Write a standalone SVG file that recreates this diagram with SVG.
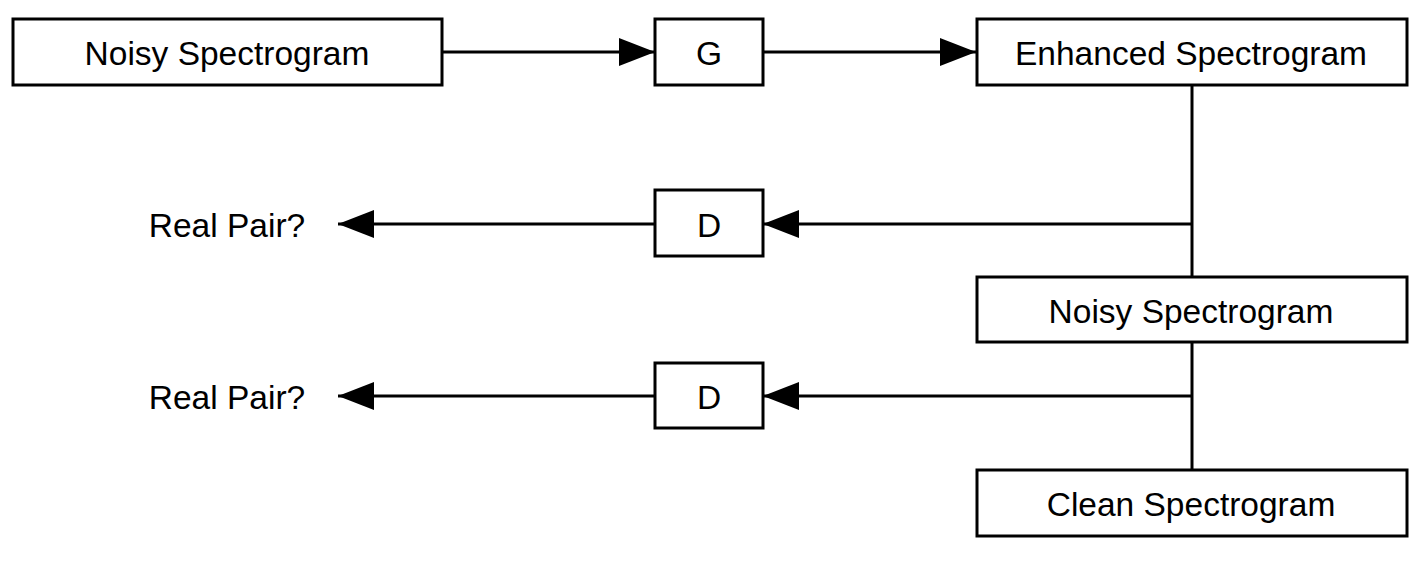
<svg xmlns="http://www.w3.org/2000/svg" width="1426" height="562" viewBox="0 0 1426 562">
<defs>
<style>
.box{fill:#fff;stroke:#000;stroke-width:3}
.t{font-family:"Liberation Sans",Arial,sans-serif;font-size:33.5px;fill:#000;text-anchor:middle;dominant-baseline:central}
.c{stroke:#000;stroke-width:3;fill:none}
</style>
<marker id="ah" markerWidth="36" markerHeight="28" refX="36" refY="14" orient="auto" markerUnits="userSpaceOnUse">
<path d="M0,0 L36,14 L0,28 Z" fill="#000"/>
</marker>
</defs>
<g id="connectors">
<line class="c" x1="442" y1="52" x2="655" y2="52" marker-end="url(#ah)"/>
<line class="c" x1="763" y1="52" x2="976" y2="52" marker-end="url(#ah)"/>
<line class="c" x1="1192" y1="85" x2="1192" y2="277"/>
<line class="c" x1="1192" y1="224" x2="763" y2="224" marker-end="url(#ah)"/>
<line class="c" x1="655" y1="224" x2="338" y2="224" marker-end="url(#ah)"/>
<line class="c" x1="1192" y1="342" x2="1192" y2="470"/>
<line class="c" x1="1192" y1="396" x2="763" y2="396" marker-end="url(#ah)"/>
<line class="c" x1="655" y1="396" x2="338" y2="396" marker-end="url(#ah)"/>
</g>
<g id="noisy-in"><rect class="box" x="13" y="19" width="429" height="66"/><text class="t" x="227" y="53">Noisy Spectrogram</text></g>
<g id="G"><rect class="box" x="655" y="19" width="108" height="66"/><text class="t" x="709" y="53">G</text></g>
<g id="enhanced"><rect class="box" x="977" y="19" width="430" height="66"/><text class="t" x="1191" y="53">Enhanced Spectrogram</text></g>
<g id="D1"><rect class="box" x="655" y="190" width="108" height="66"/><text class="t" x="709" y="225">D</text></g>
<g id="real1"><text class="t" x="227" y="225">Real Pair?</text></g>
<g id="noisy2"><rect class="box" x="977" y="277" width="430" height="65"/><text class="t" x="1191" y="311">Noisy Spectrogram</text></g>
<g id="D2"><rect class="box" x="655" y="363" width="108" height="65"/><text class="t" x="709" y="397">D</text></g>
<g id="real2"><text class="t" x="227" y="397">Real Pair?</text></g>
<g id="clean"><rect class="box" x="977" y="470" width="430" height="66"/><text class="t" x="1191" y="504">Clean Spectrogram</text></g>
</svg>
